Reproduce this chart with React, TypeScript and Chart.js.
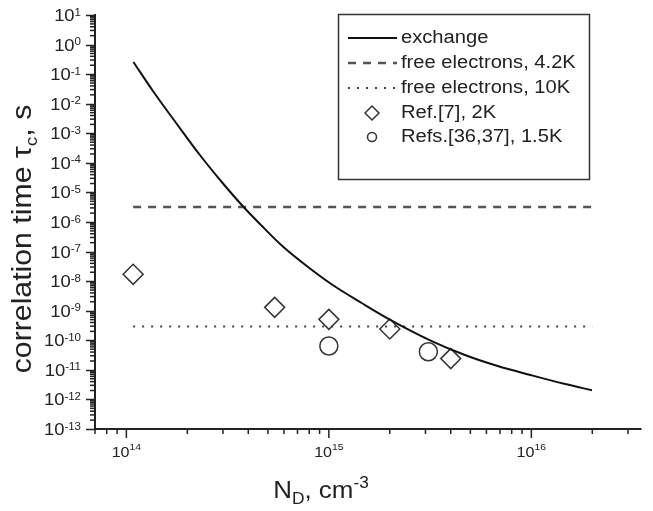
import React, { useEffect, useRef } from "react";
import { Chart, registerables } from "chart.js";
Chart.register(...registerables);

// ---- data ----
const exchangeN = [1.083e14, 1.358e14, 1.761e14, 2.307e14, 2.959e14, 3.792e14, 4.647e14, 5.891e14, 7.72e14, 1.036e15, 1.453e15, 1.97e15, 3.202e15, 4.7e15, 6.82e15, 9.9e15, 1.453e16, 1.993e16];
const exchangeTau = [0.257, 0.02587, 2.227e-3, 1.843e-4, 2.251e-5, 3.21e-6, 7.61e-7, 1.542e-7, 3.38e-8, 7.69e-9, 1.821e-9, 5.32e-10, 9.6e-11, 3.18e-11, 1.349e-11, 6.69e-12, 3.37e-12, 2.05e-12];
const freeN = [1.08e14, 2.0e16];
const free42KTau = [3.2e-6, 3.2e-6];
const free10KTau = [2.95e-10, 2.95e-10];
const ref7N = [1.08e14, 5.4e14, 1.0e15, 2.0e15, 4.0e15];
const ref7Tau = [1.7e-8, 1.3e-9, 5.1e-10, 2.4e-10, 2.4e-11];
const refs3637N = [1.0e15, 3.1e15];
const refs3637Tau = [6.4e-11, 4.1e-11];
const xMajorExp = [14, 15, 16];
const yMajorExp = [1, 0, -1, -2, -3, -4, -5, -6, -7, -8, -9, -10, -11, -12, -13];
const legendLabels = ["exchange", "free electrons, 4.2K", "free electrons, 10K", "Ref.[7], 2K", "Refs.[36,37], 1.5K"];
const xTitle = ["N", "D", ", cm", "-3"];
const yTitle = ["correlation time \u03c4", "c", ", s"];

const FONT = '"Liberation Sans", Arial, sans-serif';
const INK = "#222";

function pts(xs: number[], ys: number[]) {
  return xs.map((x, i) => ({ x, y: ys[i] }));
}

function txt(ctx: CanvasRenderingContext2D, s: string, x: number, y: number, size: number, sx = 1, align: CanvasTextAlign = "left", base: CanvasTextBaseline = "alphabetic") {
  ctx.save();
  ctx.translate(x, y);
  ctx.scale(sx, 1);
  ctx.font = `${size}px ${FONT}`;
  ctx.textAlign = align;
  ctx.textBaseline = base;
  ctx.fillStyle = INK;
  ctx.fillText(s, 0, 0);
  ctx.restore();
}
function tw(ctx: CanvasRenderingContext2D, s: string, size: number, sx = 1) {
  ctx.save();
  ctx.font = `${size}px ${FONT}`;
  const w = ctx.measureText(s).width * sx;
  ctx.restore();
  return w;
}

const decorPlugin = {
  id: "decor",
  afterDraw(chart: any) {
    const ctx: CanvasRenderingContext2D = chart.ctx;
    const xs = chart.scales.x;
    const ys = chart.scales.y;
    const a = chart.chartArea;
    ctx.save();
    ctx.strokeStyle = INK;
    ctx.lineWidth = 2;
    // axis lines
    ctx.beginPath();
    ctx.moveTo(a.left, a.top - 1);
    ctx.lineTo(a.left, a.bottom);
    ctx.lineTo(a.right, a.bottom);
    ctx.stroke();
    ctx.lineWidth = 1.5;
    // y ticks
    for (let e = -13; e <= 1; e++) {
      const py = Math.round(ys.getPixelForValue(Math.pow(10, e))) + 0.5;
      ctx.beginPath();
      ctx.moveTo(a.left - 9, py);
      ctx.lineTo(a.left, py);
      ctx.stroke();
      if (e < 1) {
        for (let m = 2; m <= 9; m++) {
          const p = ys.getPixelForValue(m * Math.pow(10, e));
          ctx.beginPath();
          ctx.moveTo(a.left - 5, p);
          ctx.lineTo(a.left, p);
          ctx.stroke();
        }
      }
    }
    // x ticks
    for (let e = 13; e <= 16; e++) {
      for (let m = 1; m <= 9; m++) {
        const v = m * Math.pow(10, e);
        if (v < xs.min * 0.999 || v > xs.max * 1.001) continue;
        const p = xs.getPixelForValue(v);
        ctx.beginPath();
        ctx.moveTo(p, a.bottom);
        ctx.lineTo(p, a.bottom + (m === 1 ? 9 : 5));
        ctx.stroke();
      }
    }
    // y tick labels
    const yMain = 16, yExp = 10, ySx = 1.15;
    yMajorExp.forEach((e) => {
      const py = ys.getPixelForValue(Math.pow(10, e));
      const es = String(e);
      const ew = tw(ctx, es, yExp, ySx);
      const right = 81;
      txt(ctx, es, right - ew, py + 0.5, yExp, ySx);
      txt(ctx, "10", right - ew, py + 6, yMain, ySx, "right");
    });
    // x tick labels
    const xMain = 14, xExp = 9, xSx = 1.15;
    xMajorExp.forEach((e) => {
      const px = xs.getPixelForValue(Math.pow(10, e));
      const es = String(e);
      const w1 = tw(ctx, "10", xMain, xSx);
      const w2 = tw(ctx, es, xExp, xSx);
      const start = px - (w1 + w2) / 2;
      txt(ctx, "10", start, 457, xMain, xSx);
      txt(ctx, es, start + w1, 450, xExp, xSx);
    });
    // x title
    {
      const big = 24, small = 16, sx = 1.08;
      const w0 = tw(ctx, xTitle[0], big, sx);
      const w1 = tw(ctx, xTitle[1], small, sx);
      const w2 = tw(ctx, xTitle[2], big, sx);
      const w3 = tw(ctx, xTitle[3], small, sx);
      let x0 = 321 - (w0 + w1 + w2 + w3) / 2;
      const base = 498;
      txt(ctx, xTitle[0], x0, base, big, sx); x0 += w0;
      txt(ctx, xTitle[1], x0, base + 6, small, sx); x0 += w1;
      txt(ctx, xTitle[2], x0, base, big, sx); x0 += w2;
      txt(ctx, xTitle[3], x0, base - 10, small, sx);
    }
    // y title (rotated)
    {
      const big = 27, small = 17, sx = 1.12;
      const w0 = tw(ctx, yTitle[0], big, sx);
      const w1 = tw(ctx, yTitle[1], small, sx);
      const w2 = tw(ctx, yTitle[2], big, sx);
      ctx.save();
      ctx.translate(31, 239);
      ctx.rotate(-Math.PI / 2);
      let x0 = -(w0 + w1 + w2) / 2;
      txt(ctx, yTitle[0], x0, 0, big, sx); x0 += w0;
      txt(ctx, yTitle[1], x0, 6, small, sx); x0 += w1;
      txt(ctx, yTitle[2], x0, 0, big, sx);
      ctx.restore();
    }
    // legend
    {
      const bx = 338, by = 14, bw = 251, bh = 165;
      ctx.lineWidth = 1.5;
      ctx.strokeStyle = "#333";
      ctx.strokeRect(bx + 0.5, by + 0.5, bw, bh);
      const rows = [38, 63, 88, 113, 137];
      const lx0 = 348, lx1 = 397, tx = 401;
      const styles: any[] = [
        { dash: [], w: 2, c: "#111" },
        { dash: [8, 7], w: 2.5, c: "#555" },
        { dash: [2, 7], w: 2, c: "#444" },
      ];
      styles.forEach((s, i) => {
        ctx.save();
        ctx.strokeStyle = s.c;
        ctx.lineWidth = s.w;
        ctx.setLineDash(s.dash);
        ctx.beginPath();
        ctx.moveTo(lx0, rows[i]);
        ctx.lineTo(lx1, rows[i]);
        ctx.stroke();
        ctx.restore();
      });
      ctx.save();
      ctx.strokeStyle = "#333";
      ctx.lineWidth = 1.5;
      const cx = 372;
      ctx.beginPath();
      ctx.moveTo(cx - 7, rows[3]);
      ctx.lineTo(cx, rows[3] - 7);
      ctx.lineTo(cx + 7, rows[3]);
      ctx.lineTo(cx, rows[3] + 7);
      ctx.closePath();
      ctx.stroke();
      ctx.beginPath();
      ctx.arc(cx, rows[4], 4.5, 0, Math.PI * 2);
      ctx.stroke();
      ctx.restore();
      legendLabels.forEach((l, i) => {
        txt(ctx, l, tx, rows[i], 18, 1.12, "left", "middle");
      });
    }
    ctx.restore();
  },
};

export default function App() {
  const ref = useRef<HTMLCanvasElement | null>(null);
  useEffect(() => {
    if (!ref.current) return;
    const chart = new Chart(ref.current, {
      type: "scatter",
      data: {
        datasets: [
          {
            label: legendLabels[0],
            data: pts(exchangeN, exchangeTau),
            showLine: true,
            borderColor: "#111",
            borderWidth: 2,
            pointRadius: 0,
            tension: 0.4,
            cubicInterpolationMode: "monotone",
            fill: false,
          } as any,
          {
            label: legendLabels[1],
            data: pts(freeN, free42KTau),
            showLine: true,
            borderColor: "#555",
            borderWidth: 2.5,
            borderDash: [8, 7],
            pointRadius: 0,
          },
          {
            label: legendLabels[2],
            data: pts(freeN, free10KTau),
            showLine: true,
            borderColor: "#444",
            borderWidth: 2,
            borderDash: [2, 7],
            pointRadius: 0,
          },
          {
            label: legendLabels[3],
            data: pts(ref7N, ref7Tau),
            showLine: false,
            pointStyle: "rectRot",
            pointRadius: 10,
            borderColor: "#333",
            borderWidth: 1.5,
            backgroundColor: "rgba(0,0,0,0)",
            clip: false,
          } as any,
          {
            label: legendLabels[4],
            data: pts(refs3637N, refs3637Tau),
            showLine: false,
            pointStyle: "circle",
            pointRadius: 9,
            borderColor: "#333",
            borderWidth: 1.5,
            backgroundColor: "rgba(0,0,0,0)",
            clip: false,
          } as any,
        ],
      },
      options: {
        responsive: false,
        animation: false,
        devicePixelRatio: 1,
        layout: { padding: { left: 95, top: 15, right: 8, bottom: 82 } },
        plugins: { legend: { display: false }, tooltip: { enabled: false } },
        scales: {
          x: { type: "logarithmic", min: 7e13, max: 3.5e16, display: false },
          y: { type: "logarithmic", min: 1e-13, max: 10, display: false },
        },
      },
      plugins: [decorPlugin],
    });
    return () => chart.destroy();
  }, []);
  return (
    <div style={{ position: "absolute", left: 0, top: 0, width: 653, height: 511, background: "#fff" }}>
      <canvas ref={ref} width={653} height={511} style={{ display: "block" }} />
    </div>
  );
}
